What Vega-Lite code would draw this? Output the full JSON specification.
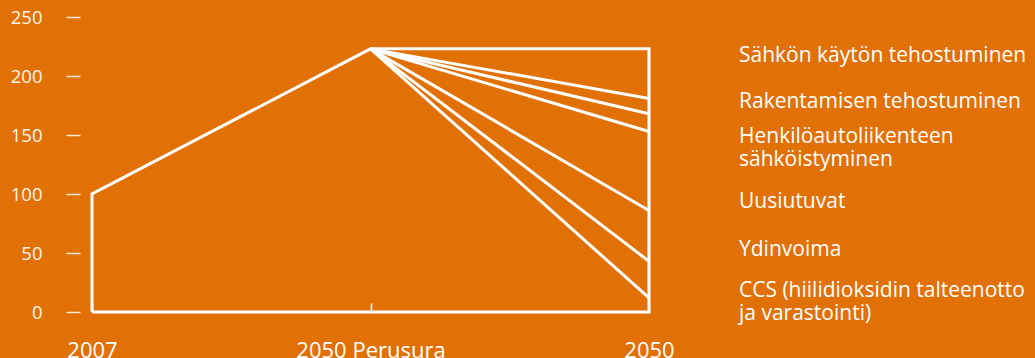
{
  "$schema": "https://vega.github.io/schema/vega-lite/v6.json",
  "width": 557,
  "height": 295,
  "autosize": {"type": "none"},
  "padding": {"left": 92, "top": 17, "right": 386, "bottom": 46},
  "background": "#E17005",
  "config": {"view": {"stroke": null}, "font": "Open Sans"},
  "datasets": {
    "lines": [
      {"series": "outline", "o": 1, "period": "2007", "v": 0},
      {"series": "outline", "o": 2, "period": "2007", "v": 100},
      {"series": "outline", "o": 3, "period": "2050 Perusura", "v": 223},
      {"series": "outline", "o": 4, "period": "2050", "v": 223},
      {"series": "outline", "o": 5, "period": "2050", "v": 0},
      {"series": "outline", "o": 6, "period": "2007", "v": 0},
      {"series": "s1", "o": 1, "period": "2050 Perusura", "v": 223},
      {"series": "s1", "o": 2, "period": "2050", "v": 181},
      {"series": "s2", "o": 1, "period": "2050 Perusura", "v": 223},
      {"series": "s2", "o": 2, "period": "2050", "v": 168},
      {"series": "s3", "o": 1, "period": "2050 Perusura", "v": 223},
      {"series": "s3", "o": 2, "period": "2050", "v": 153},
      {"series": "s4", "o": 1, "period": "2050 Perusura", "v": 223},
      {"series": "s4", "o": 2, "period": "2050", "v": 86},
      {"series": "s5", "o": 1, "period": "2050 Perusura", "v": 223},
      {"series": "s5", "o": 2, "period": "2050", "v": 43},
      {"series": "s6", "o": 1, "period": "2050 Perusura", "v": 223},
      {"series": "s6", "o": 2, "period": "2050", "v": 12}
    ],
    "labels": [
      {"label": "Sähkön käytön tehostuminen", "ly": 217},
      {"label": "Rakentamisen tehostuminen", "ly": 178},
      {"label": "Henkilöautoliikenteen\nsähköistyminen", "ly": 148.3},
      {"label": "Uusiutuvat", "ly": 93.2},
      {"label": "Ydinvoima", "ly": 52.5},
      {"label": "CCS (hiilidioksidin talteenotto\nja varastointi)", "ly": 17.8}
    ]
  },
  "layer": [
    {
      "data": {"name": "lines"},
      "mark": {"type": "line", "color": "#FFFFFF", "strokeWidth": 3, "strokeJoin": "miter"},
      "encoding": {
        "x": {
          "field": "period", "type": "ordinal", "sort": null,
          "scale": {"type": "point", "padding": 0, "domain": ["2007", "2050 Perusura", "2050"]},
          "axis": {
            "title": null, "domain": false, "ticks": true, "tickSize": -9, "tickWidth": 1.5,
            "tickColor": "#FFFFFF", "labelAngle": 0, "labelFontSize": 22, "labelColor": "#FFFFFF",
            "labelPadding": 37, "labelFont": "Open Sans"
          }
        },
        "y": {
          "field": "v", "type": "quantitative",
          "scale": {"domain": [0, 250], "nice": false, "zero": true},
          "axis": {
            "title": null, "domain": false, "grid": false, "values": [0, 50, 100, 150, 200, 250],
            "offset": 12, "tickSize": 14, "tickWidth": 1.5, "tickColor": "#FFFFFF", "tickOpacity": 0.85,
            "labelFontSize": 18.5, "labelColor": "#FFF6EE", "labelPadding": 24, "labelFont": "Open Sans"
          }
        },
        "detail": {"field": "series"},
        "order": {"field": "o", "type": "quantitative"}
      }
    },
    {
      "data": {"name": "labels"},
      "mark": {"type": "text", "align": "left", "baseline": "middle", "dx": 90, "color": "#FFFFFF", "fontSize": 21, "lineBreak": "\n", "lineHeight": 23, "font": "Open Sans"},
      "encoding": {
        "x": {"datum": "2050", "type": "ordinal"},
        "y": {"field": "ly", "type": "quantitative"},
        "text": {"field": "label"}
      }
    }
  ]
}
